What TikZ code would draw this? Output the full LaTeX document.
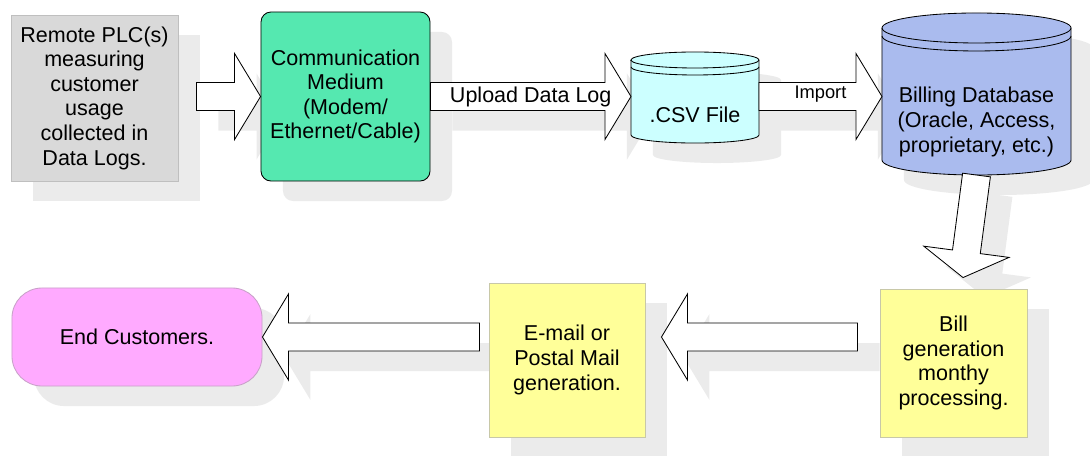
\documentclass[tikz,border=0pt]{standalone}
\usepackage{fontspec}
\setmainfont{Liberation Sans}
\usetikzlibrary{calc, shadows}
\pgfdeclarelayer{background}
\pgfsetlayers{background,main}

\definecolor{plcgray}{HTML}{D9D9D9}
\definecolor{plcline}{HTML}{BFBFBF}
\definecolor{commgreen}{HTML}{55E8B0}
\definecolor{csvcyan}{HTML}{CCFFFF}
\definecolor{dbblue}{HTML}{AABBEE}
\definecolor{notey}{HTML}{FFFF99}
\definecolor{noteline}{HTML}{C8C8A8}
\definecolor{custpink}{HTML}{FFAAFF}
\definecolor{custline}{HTML}{C8A0C8}
\definecolor{shadowfill}{HTML}{EBEBEB}

% outline of a fat arrow from #1 to #2 (needs coordinate neck)
\newcommand{\arrowoutline}[2]{($(#1)!0.35cm!90:(#2)$) -- ($(neck)!0.35cm!90:(#2)$) -- ($(neck)!1.075cm!90:(#2)$) -- (#2) -- ($(neck)!1.075cm!-90:(#2)$) -- ($(neck)!0.35cm!-90:(#2)$) -- ($(#1)!0.35cm!-90:(#2)$) -- cycle}
\newcommand{\blockarrow}[2]{%
  \path ($(#2)!0.65cm!(#1)$) coordinate (neck);
  \begin{pgfonlayer}{background}
    \fill[shadowfill, transform canvas={shift={(22,20)}}] \arrowoutline{#1}{#2};
  \end{pgfonlayer}
  \draw[fatarrow] \arrowoutline{#1}{#2};
}
% cylinder round node #1: cap height #2 (px), half width #3, fill #4, gap #5 (px)
\newcommand{\cylout}[3]{($(#1.north west)+(0,#2)$) -- ($(#1.south west)-(0,#2)$) arc[start angle=180, end angle=360, x radius=#3, y radius=#2*0.025cm] -- ($(#1.north east)+(0,#2)$) arc[start angle=0, end angle=180, x radius=#3, y radius=#2*0.025cm] -- cycle}
\newcommand{\cylinderbody}[5]{%
  \begin{pgfonlayer}{background}
    \fill[shadowfill, transform canvas={shift={(22,20)}}] \cylout{#1}{#2}{#3};
  \end{pgfonlayer}
  \draw[cylline, fill=#4] \cylout{#1}{#2}{#3};
  \draw[cylline] ($(#1.north west)+(0,#2)$) arc[start angle=180, end angle=360, x radius=#3, y radius=#2*0.025cm];
  \draw[cylline] ($(#1.north west)+(0,#2+#5)$) arc[start angle=180, end angle=360, x radius=#3, y radius=#2*0.025cm];
}

\begin{document}
\begin{tikzpicture}[x=0.025cm, y=-0.025cm,
    box/.style={draw, line width=0.6pt, align=center, inner sep=2pt,
      font=\fontsize{15.3}{17.5}\selectfont,
      general shadow={fill=shadowfill, shadow xshift=0.55cm, shadow yshift=-0.5cm}},
    cylbody/.style={inner sep=0pt, outer sep=0pt},
    cylline/.style={draw=black, line width=0.6pt},
    lbl/.style={align=center, inner sep=1pt, font=\fontsize{15.3}{17.5}\selectfont},
    fatarrow/.style={draw=black, fill=white, line width=0.6pt, line join=miter}
]
\useasboundingbox (0,0) rectangle (1090,455);

% top row
\node[box, fill=plcgray, draw=plcline, minimum width=4.175cm, minimum height=4.15cm] (plc) at (94.5,98) {Remote PLC(s)\\measuring\\customer\\usage\\collected in\\Data Logs.};
\node[box, fill=commgreen, rounded corners=0.25cm, minimum width=4.225cm, minimum height=4.225cm] (comm) at (345.5,96.5) {Communication\\Medium\\(Modem/\\Ethernet/Cable)};

\node[cylbody, minimum width=3.2cm, minimum height=2.275cm] (csv) at (695,97.5) {};
\cylinderbody{csv}{8}{1.6cm}{csvcyan}{7}
\node[lbl] (csvtext) at ($(csv.center)+(0,17.5)$) {.CSV File};

\node[cylbody, minimum width=4.725cm, minimum height=4.05cm] (db) at (976.5,94) {};
\cylinderbody{db}{15}{2.3625cm}{dbblue}{8}
\node[lbl] (dbtext) at ($(db.center)+(0,28)$) {Billing Database\\(Oracle, Access,\\proprietary, etc.)};

% bottom row
\node[box, fill=notey, draw=noteline, minimum width=3.675cm, minimum height=3.7cm] (bill) at (953.5,363) {Bill\\generation\\monthy\\processing.};
\node[box, fill=notey, draw=noteline, minimum width=3.9cm, minimum height=3.85cm] (mail) at (567,360) {E-mail or\\Postal Mail\\generation.};
\node[box, fill=custpink, draw=custline, rounded corners=0.75cm, minimum width=6.25cm, minimum height=2.45cm] (cust) at (137,337) {End Customers.};

% arrow ends
\coordinate (a1s) at ($(plc.east |- comm.west)+(18,0)$);
\coordinate (a2t) at (csv.west |- comm.east);
\coordinate (a3s) at (csv.east |- comm.east);
\coordinate (a3t) at (db.west |- comm.east);
\coordinate (a4s) at ($(bill.west |- cust.east)+(-22,0)$);
\coordinate (a4t) at ($(mail.east |- cust.east)+(16,0)$);
\coordinate (a5s) at ($(mail.west |- cust.east)+(-9,0)$);
\coordinate (a6t) at ($(bill.north)+(9.5,-11)$);

\blockarrow{a1s}{comm.west}
\blockarrow{comm.east}{a2t}
\blockarrow{a3s}{a3t}
\blockarrow{db.south}{a6t}
\blockarrow{a4s}{a4t}
\blockarrow{a5s}{cust.east}

\node[lbl] (upload) at ($(comm.east)!0.5!(a2t)$) {Upload Data Log};
\node[lbl, font=\fontsize{13}{15}\selectfont] (import) at ($(a3s)!0.5!(a3t)+(0,-2)$) {Import};
\end{tikzpicture}
\end{document}
